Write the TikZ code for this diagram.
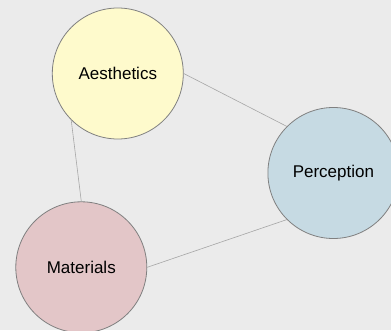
\documentclass[tikz,border=0pt]{standalone}
\usepackage{fontspec}
\setmainfont{Liberation Sans}
\definecolor{paper}{HTML}{EBEBEB}
\definecolor{aesfill}{HTML}{FEFACC}
\definecolor{perfill}{HTML}{C6DAE3}
\definecolor{matfill}{HTML}{E3C6C8}
\tikzset{
  bubble/.style={circle, draw=black!50, line width=0.8pt, minimum size=131pt, inner sep=0pt, font=\fontsize{17}{20}\selectfont},
  link/.style={draw=black!35, line width=0.6pt},
}

\begin{document}
\begin{tikzpicture}[x=1pt, y=1pt]
\fill[paper] (0,0) rectangle (391,330);
\useasboundingbox (0,0) rectangle (391,330);
\node[bubble, fill=aesfill] (aes) at (117.8,256.5) {Aesthetics};
\node[bubble, fill=perfill] (per) at (333.4,157.0) {Perception};
\node[bubble, fill=matfill] (mat) at (81.3,62.7) {Materials};
\draw[link] (aes.east) -- (per.north west);
\draw[link] (aes.south west) -- (mat.north);
\draw[link] (per.south west) -- (mat.east);
\end{tikzpicture}
\end{document}
